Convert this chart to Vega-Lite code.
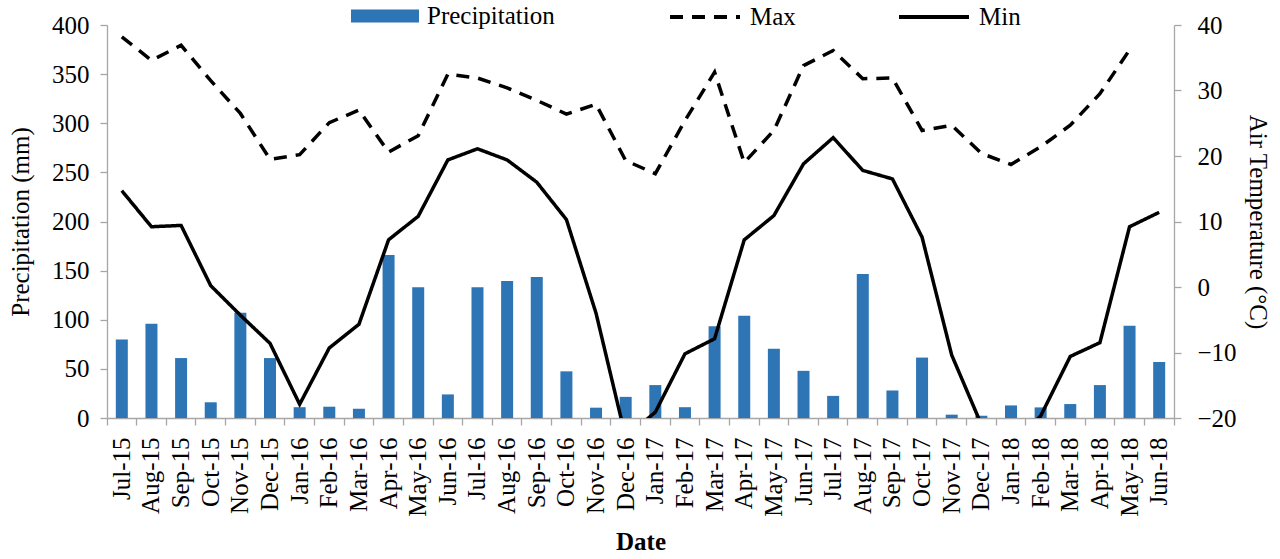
{
  "$schema": "https://vega.github.io/schema/vega-lite/v6.json",
  "autosize": "none",
  "width": 1067,
  "height": 393,
  "padding": {"left": 107, "top": 25, "right": 106, "bottom": 141},
  "background": "white",
  "config": {
    "view": {"stroke": null},
    "font": "Liberation Serif",
    "axis": {
      "labelFont": "Liberation Serif",
      "labelFontSize": 25,
      "labelColor": "black",
      "titleFont": "Liberation Serif",
      "titleFontSize": 25,
      "titleFontWeight": "normal",
      "titleColor": "black",
      "domainColor": "#A6A6A6",
      "tickColor": "#A6A6A6",
      "domainWidth": 1.3,
      "tickWidth": 1.3,
      "tickSize": 7,
      "grid": false
    },
    "legend": {
      "labelFont": "Liberation Serif",
      "labelFontSize": 25,
      "labelColor": "black",
      "padding": 0
    }
  },
  "data": {
    "values": [
      {"month": "Jul-15", "precip": 80, "tmax": 38.2, "tmin": 14.7},
      {"month": "Aug-15", "precip": 96, "tmax": 34.6, "tmin": 9.2},
      {"month": "Sep-15", "precip": 61, "tmax": 36.9, "tmin": 9.4},
      {"month": "Oct-15", "precip": 16, "tmax": 31.5, "tmin": 0.2},
      {"month": "Nov-15", "precip": 107, "tmax": 26.5, "tmin": -4.3},
      {"month": "Dec-15", "precip": 61, "tmax": 19.5, "tmin": -8.6},
      {"month": "Jan-16", "precip": 11, "tmax": 20.2, "tmin": -17.9},
      {"month": "Feb-16", "precip": 11.5, "tmax": 25.1, "tmin": -9.3},
      {"month": "Mar-16", "precip": 9.5, "tmax": 27.0, "tmin": -5.7},
      {"month": "Apr-16", "precip": 166, "tmax": 20.6, "tmin": 7.2},
      {"month": "May-16", "precip": 133, "tmax": 23.1, "tmin": 10.8},
      {"month": "Jun-16", "precip": 24, "tmax": 32.5, "tmin": 19.4},
      {"month": "Jul-16", "precip": 133, "tmax": 31.9, "tmin": 21.1},
      {"month": "Aug-16", "precip": 139.5, "tmax": 30.4, "tmin": 19.4},
      {"month": "Sep-16", "precip": 143.5, "tmax": 28.5, "tmin": 16.0},
      {"month": "Oct-16", "precip": 47.5, "tmax": 26.4, "tmin": 10.3},
      {"month": "Nov-16", "precip": 10.5, "tmax": 27.9, "tmin": -4.0},
      {"month": "Dec-16", "precip": 21.5, "tmax": 19.3, "tmin": -23.0},
      {"month": "Jan-17", "precip": 33.5, "tmax": 17.3, "tmin": -19.1},
      {"month": "Feb-17", "precip": 11, "tmax": 25.4, "tmin": -10.2},
      {"month": "Mar-17", "precip": 93.5, "tmax": 32.8, "tmin": -7.9},
      {"month": "Apr-17", "precip": 104, "tmax": 19.0, "tmin": 7.2},
      {"month": "May-17", "precip": 70.5, "tmax": 23.9, "tmin": 10.9},
      {"month": "Jun-17", "precip": 48, "tmax": 33.8, "tmin": 18.8},
      {"month": "Jul-17", "precip": 22.5, "tmax": 36.1, "tmin": 22.8},
      {"month": "Aug-17", "precip": 146.5, "tmax": 31.8, "tmin": 17.8},
      {"month": "Sep-17", "precip": 28, "tmax": 31.9, "tmin": 16.5},
      {"month": "Oct-17", "precip": 61.5, "tmax": 23.9, "tmin": 7.6},
      {"month": "Nov-17", "precip": 3.4, "tmax": 24.7, "tmin": -10.4},
      {"month": "Dec-17", "precip": 2.3, "tmax": 20.4, "tmin": -21.0},
      {"month": "Jan-18", "precip": 12.8, "tmax": 18.7, "tmin": -24.0},
      {"month": "Feb-18", "precip": 10.8, "tmax": 21.4, "tmin": -19.7},
      {"month": "Mar-18", "precip": 14.2, "tmax": 24.7, "tmin": -10.6},
      {"month": "Apr-18", "precip": 33.5, "tmax": 29.5, "tmin": -8.5},
      {"month": "May-18", "precip": 94, "tmax": 36.2, "tmin": 9.2},
      {"month": "Jun-18", "precip": 57, "tmax": null, "tmin": 11.4}
    ]
  },
  "encoding": {
    "x": {
      "field": "month",
      "type": "ordinal",
      "sort": null,
      "scale": {"paddingInner": 0, "paddingOuter": 0},
      "axis": {
        "title": "Date",
        "titleFontWeight": "bold",
        "titlePadding": 13,
        "labelAngle": -90,
        "labelPadding": 12,
        "bandPosition": 1,
        "tickExtra": true
      }
    }
  },
  "layer": [
    {
      "mark": {"type": "bar", "size": 12},
      "encoding": {
        "y": {
          "field": "precip",
          "type": "quantitative",
          "scale": {"domain": [0, 400], "nice": false},
          "axis": {
            "title": "Precipitation (mm)",
            "values": [0, 50, 100, 150, 200, 250, 300, 350, 400],
            "labelPadding": 11,
            "titlePadding": 18
          }
        },
        "color": {
          "datum": "Precipitation",
          "scale": {"range": ["#2E75B6"]},
          "legend": {
            "title": null,
            "orient": "none",
            "legendX": 244,
            "legendY": -43,
            "symbolType": "M-1,-0.19H1V0.19H-1Z",
            "symbolSize": 4624,
            "symbolStrokeWidth": 0,
            "labelOffset": 8,
            "labelBaseline": "middle"
          }
        }
      }
    },
    {
      "layer": [
        {
          "mark": {"type": "line", "color": "black", "strokeWidth": 3.5, "clip": true},
          "encoding": {
            "y": {"field": "tmax", "type": "quantitative"},
            "strokeDash": {
              "datum": "Max",
              "scale": {"domain": ["Max", "Min"], "range": [[13, 9], [1, 0]]},
              "legend": {
                "title": null,
                "orient": "none",
                "direction": "horizontal",
                "legendX": 561,
                "legendY": -45,
                "symbolType": "stroke",
                "symbolSize": 4900,
                "symbolStrokeWidth": 4,
                "symbolStrokeColor": "black",
                "labelOffset": 8,
                "columnPadding": 95,
                "labelBaseline": "middle"
              }
            }
          }
        },
        {
          "mark": {"type": "line", "color": "black", "strokeWidth": 3.5, "clip": true},
          "encoding": {
            "y": {
              "field": "tmin",
              "type": "quantitative",
              "scale": {"domain": [-20, 40], "nice": false},
              "axis": {
                "title": "Air Temperature (°C)",
                "orient": "right",
                "values": [-20, -10, 0, 10, 20, 30, 40],
                "labelPadding": 16,
                "titlePadding": 8
              }
            },
            "strokeDash": {"datum": "Min"}
          }
        }
      ],
      "resolve": {"scale": {"y": "shared"}}
    }
  ],
  "resolve": {"scale": {"y": "independent"}}
}
